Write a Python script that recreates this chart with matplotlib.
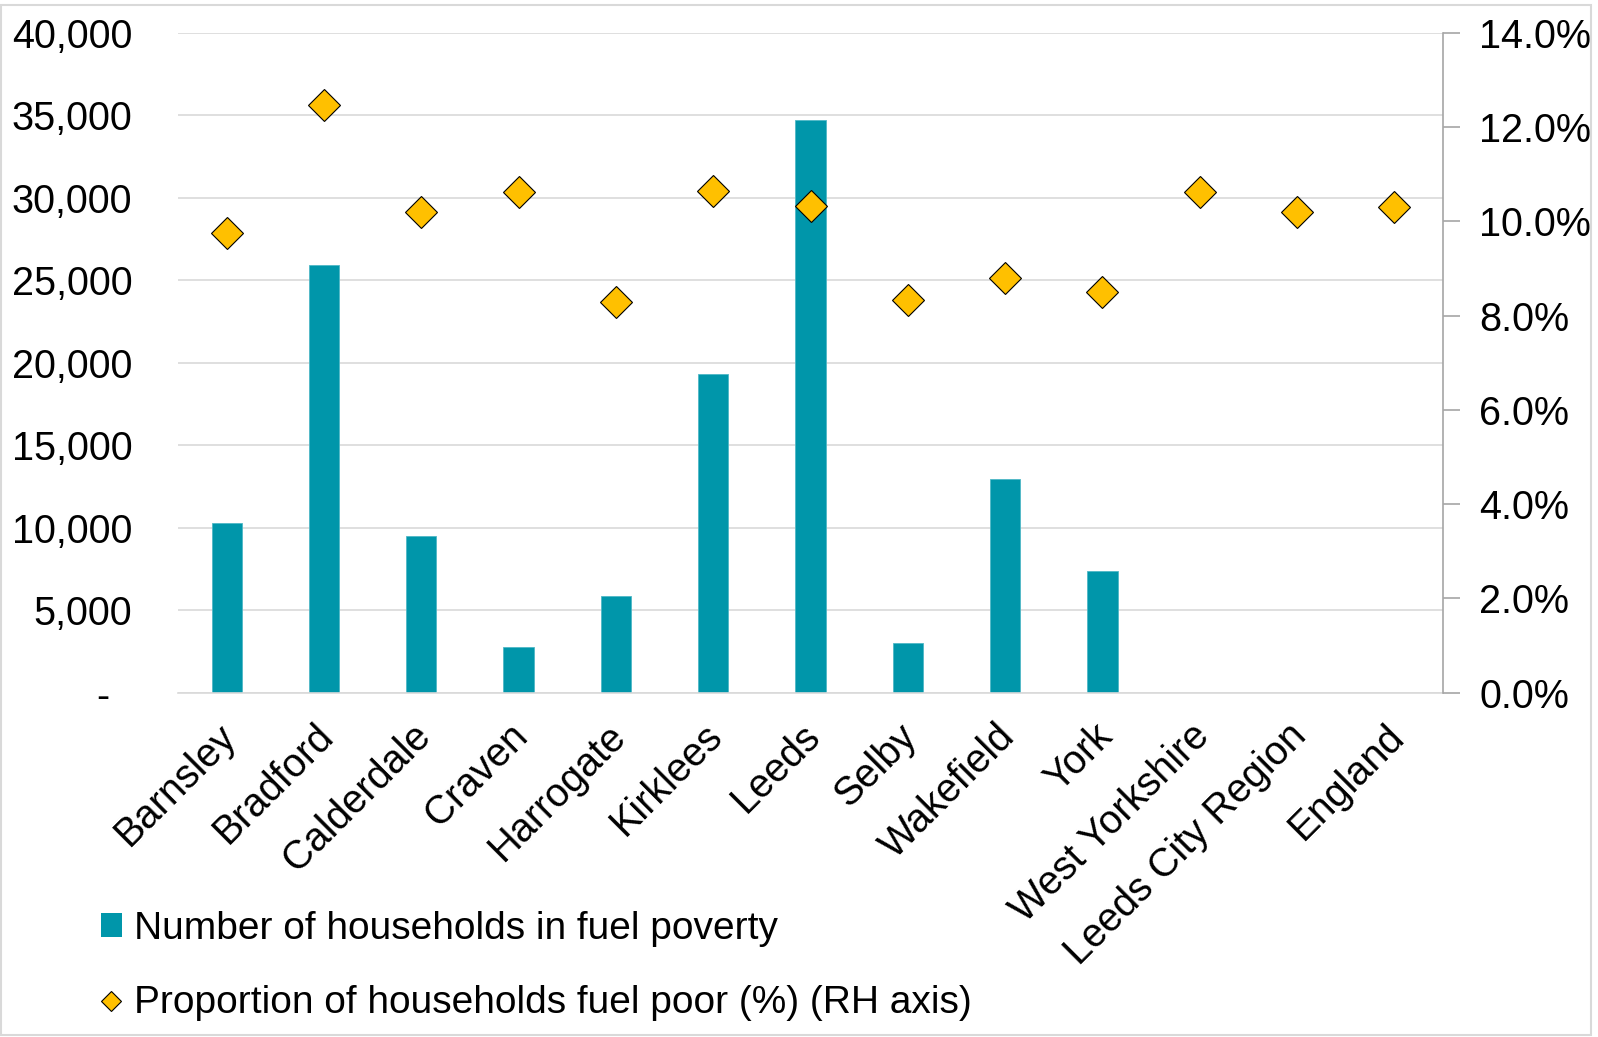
import matplotlib
matplotlib.use("Agg")
import matplotlib.pyplot as plt
import numpy as np
from matplotlib.patches import Patch, Rectangle
from matplotlib.lines import Line2D
from matplotlib.ticker import FuncFormatter, FixedLocator
from matplotlib.transforms import ScaledTranslation

categories = ["Barnsley", "Bradford", "Calderdale", "Craven", "Harrogate", "Kirklees",
              "Leeds", "Selby", "Wakefield", "York", "West Yorkshire",
              "Leeds City Region", "England"]
households = [10300, 25900, 9500, 2750, 5850, 19300, 34700, 3000, 12950, 7400]
proportion_pct = [9.76, 12.46, 10.19, 10.63, 8.29, 10.65, 10.32, 8.32, 8.80, 8.49,
                  10.62, 10.19, 10.31]
left_ticks = [0, 5000, 10000, 15000, 20000, 25000, 30000, 35000, 40000]
right_ticks = [0, 2, 4, 6, 8, 10, 12, 14]
legend_labels = ["Number of households in fuel poverty",
                 "Proportion of households fuel poor (%) (RH axis)"]

plt.rcParams['font.family'] = ['Liberation Sans', 'DejaVu Sans']
FS = 28.5

W, H = 1598, 1037
fig = plt.figure(figsize=(W / 100, H / 100), dpi=100)

# figure border
fig.patches.append(Rectangle((0.5 / W, 1 - 1035 / H), 1590 / W, 1030 / H,
                             transform=fig.transFigure, fill=False,
                             edgecolor='#d9d9d9', linewidth=1.5))

left, right, top, bottom = 178, 1443, 32.7, 692.7
ax = fig.add_axes([left / W, 1 - bottom / H, (right - left) / W, (bottom - top) / H])

x = np.arange(len(categories))
ax.bar(x[:len(households)], households, width=0.31, color='#0096AA',
       edgecolor='#4FB8C6', linewidth=0.6, zorder=2)
ax.set_xlim(-0.5, len(categories) - 0.5)
ax.set_ylim(0, 40000)
ax.yaxis.set_major_locator(FixedLocator(left_ticks))
ax.yaxis.set_major_formatter(FuncFormatter(lambda v, p: "-  " if v == 0 else f"{int(v):,}"))
ax.grid(axis='y', color='#d9d9d9', linewidth=1.2)
ax.set_axisbelow(True)
for s in ['left', 'right', 'top']:
    ax.spines[s].set_visible(False)
ax.spines['bottom'].set_color('#d9d9d9')
ax.spines['bottom'].set_linewidth(1.2)
ax.tick_params(axis='y', length=0, pad=33, labelsize=FS)
ax.set_xticks(x)
ax.set_xticklabels(categories, rotation=45, ha='right', va='center',
                   rotation_mode='anchor', fontsize=FS)
ax.tick_params(axis='x', length=0, pad=27)
offset = ScaledTranslation(2.5 / 72, 0, fig.dpi_scale_trans)
for lbl in ax.get_xticklabels():
    lbl.set_transform(lbl.get_transform() + offset)

ax2 = ax.twinx()
ax2.plot(x, proportion_pct, linestyle='none', marker='D', markersize=16,
         markerfacecolor='#FFC000', markeredgecolor='black', markeredgewidth=0.8,
         zorder=3)
ax2.set_ylim(0, 14)
ax2.yaxis.set_major_locator(FixedLocator(right_ticks))
ax2.yaxis.set_major_formatter(FuncFormatter(lambda v, p: f"{v:.1f}%"))
for s in ['left', 'top', 'bottom']:
    ax2.spines[s].set_visible(False)
ax2.spines['right'].set_color('#a6a6a6')
ax2.spines['right'].set_linewidth(1.2)
ax2.tick_params(axis='y', length=12, width=1.2, color='#a6a6a6', pad=14, labelsize=FS)

handles = [Patch(facecolor='#0096AA', edgecolor='none'),
           Line2D([], [], linestyle='none', marker='D', markersize=10,
                  markerfacecolor='#FFC000', markeredgecolor='black', markeredgewidth=0.8)]
fig.legend(handles, legend_labels, loc='upper left',
           bbox_to_anchor=(85 / W, 1 - 895 / H), frameon=False, fontsize=28,
           handlelength=0.55, handleheight=0.55, handletextpad=0.3,
           labelspacing=1.0, borderaxespad=0)

fig.savefig("out.png", dpi=100)
